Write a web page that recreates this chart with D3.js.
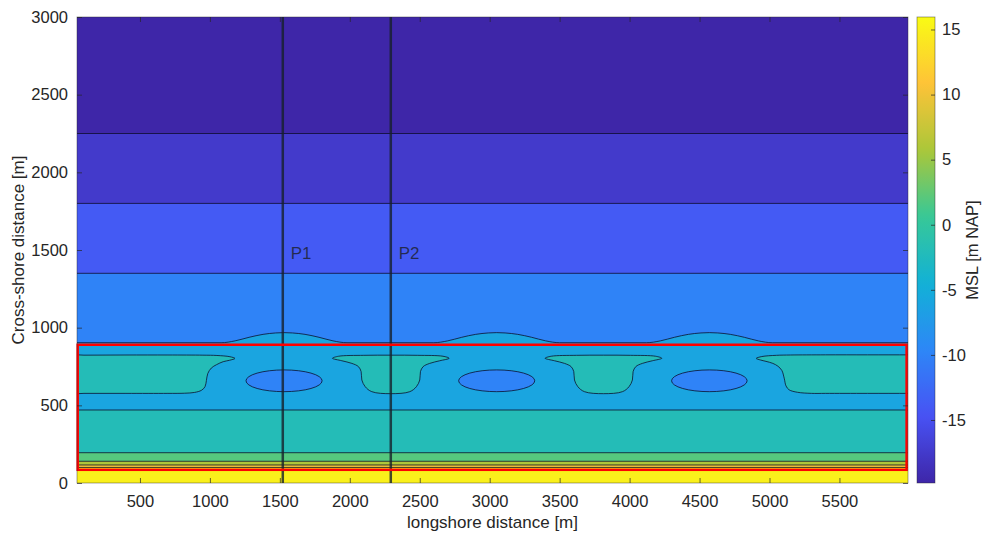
<!DOCTYPE html>
<html>
<head>
<meta charset="utf-8">
<script src="https://cdn.jsdelivr.net/npm/d3@7"></script>
<style>
  body { margin: 0; background: #fff; }
  text { font-family: "Liberation Sans", Arial, Helvetica, sans-serif; fill: #262626; }
</style>
</head>
<body>
<svg id="chart" width="991" height="533"></svg>
<script>
// contour levels [m NAP] and colour limits of the bed level
const levels = [-17.5, -14, -10, -6, -2, 2, 6, 10, 15];
const colorLimits = [-19.84, 15.96];

// shore-parallel contours: level and cross-shore position [m]
const flatLevels = [-17.5, -14, -10, -2, 2, 6, 10, 15];
const flatY = [2250, 1800, 1350, 470, 195, 140, 116, 100];

// -6 m contour, bulging seaward in front of the rip channels
const bumpX = [-200, 1080, 1180, 1280, 1380, 1470, 1530, 1590, 1680, 1780, 1880, 1980,
               2600, 2700, 2800, 2900, 2990, 3050, 3110, 3200, 3300, 3400, 3500,
               4120, 4220, 4320, 4420, 4510, 4570, 4630, 4720, 4820, 4920, 5020, 6200];
const bumpY = [903, 903, 915, 938, 957, 966, 968, 966, 957, 938, 915, 903,
               903, 915, 938, 957, 966, 968, 966, 957, 938, 915, 903,
               903, 915, 938, 957, 966, 968, 966, 957, 938, 915, 903, 903];

// rip channels: closed -6 m contours (extent in metres)
const ripX0 = [1258, 2778, 4300];
const ripX1 = [1802, 3322, 4840];
const ripY0 = 588;
const ripY1 = 728;

// shoals: closed -2 m contours
const shoalX = [
  [-200, 100, 400, 700, 950, 1050, 1143, 1179, 1140, 1095, 1048, 1010, 985, 975, 965, 940, 890, 820, 700, 400, 100, -200],
  [1876, 1920, 2100, 2293, 2486, 2666, 2710, 2643, 2571, 2524, 2505, 2500, 2476, 2429, 2293, 2157, 2110, 2086, 2081, 2062, 2015, 1943],
  [3396, 3440, 3620, 3813, 4006, 4186, 4230, 4163, 4091, 4044, 4025, 4020, 3996, 3949, 3813, 3677, 3630, 3606, 3601, 3582, 3535, 3463],
  [4905, 4945, 5050, 5150, 5400, 5700, 6000, 6200, 6200, 6000, 5700, 5400, 5300, 5200, 5140, 5118, 5105, 5088, 5060, 5024, 4975, 4935]
];
const shoalY = [
  [822, 823, 824, 824, 823, 821, 813, 802, 790, 781, 762, 740, 705, 660, 620, 597, 583, 578, 577, 577, 577, 577],
  [803, 816, 822, 823, 822, 816, 803, 787, 770, 749, 717, 663, 620, 588, 575, 588, 620, 663, 717, 749, 770, 787],
  [803, 816, 822, 823, 822, 816, 803, 787, 770, 749, 717, 663, 620, 588, 575, 588, 620, 663, 717, 749, 770, 787],
  [802, 814, 822, 824, 825, 825, 825, 825, 577, 577, 577, 577, 577, 584, 600, 625, 675, 725, 752, 770, 783, 792]
];

// cross-shore profiles
const profileNames = ['P1', 'P2'];
const profileX = [1521, 2293];
const profileLabelY = 1480;

// study area box
const boxX = [55, 5980];
const boxY = [85, 890];

// ticks
const xTicks = [500, 1000, 1500, 2000, 2500, 3000, 3500, 4000, 4500, 5000, 5500];
const yTicks = [0, 500, 1000, 1500, 2000, 2500, 3000];
const cTicks = [-15, -10, -5, 0, 5, 10, 15];

const svg = d3.select('#chart');
const plot = { left: 77, right: 908, top: 17, bottom: 483 };
const bar = { left: 917, right: 935 };
const fontSize = '16.5px';
const labelSize = '17px';

const x = d3.scaleLinear().domain([50, 5990]).range([plot.left, plot.right]);
const y = d3.scaleLinear().domain([0, 3000]).range([plot.bottom, plot.top]);

// parula colormap
const parula = d3.piecewise(d3.interpolateRgb, [
  '#3e26a8', '#4852f4', '#2d87f7', '#12b1d6', '#37c897', '#abc739', '#fec338', '#f9fb14'
]);
const cNorm = d3.scaleLinear().domain(colorLimits).range([0, 1]).clamp(true);
const color = v => parula(cNorm(v));

svg.append('defs').append('clipPath').attr('id', 'clip')
  .append('rect')
  .attr('x', plot.left).attr('y', plot.top)
  .attr('width', plot.right - plot.left).attr('height', plot.bottom - plot.top);

const g = svg.append('g').attr('clip-path', 'url(#clip)');
const [x0, x1] = x.domain();
const lineStyle = sel => sel.attr('stroke', '#0a0a28').attr('stroke-width', 0.9).attr('stroke-opacity', 0.85);

// band below a horizontal level line
function band(yTop, fill) {
  g.append('rect')
    .attr('x', x(x0)).attr('width', x(x1) - x(x0))
    .attr('y', y(yTop)).attr('height', y(0) - y(yTop))
    .attr('fill', fill);
}

// deepest area
band(3000, color(colorLimits[0]));
// offshore shore-parallel bands
flatLevels.slice(0, 3).forEach((lv, i) => band(flatY[i], color(lv)));

// -6 m region under the bumpy contour
const bumpLine = d3.line().x(d => x(d[0])).y(d => y(d[1])).curve(d3.curveMonotoneX);
const bumpPts = bumpX.map((v, i) => [v, bumpY[i]]);
const bumpArea = d3.area().x(d => x(d[0])).y0(y(-100)).y1(d => y(d[1])).curve(d3.curveMonotoneX);
g.append('path').datum(bumpPts).attr('d', bumpArea).attr('fill', color(-6));

// rip channels (deeper than -6)
const rips = ripX0.map((v, i) => ({ cx: (v + ripX1[i]) / 2, rx: (ripX1[i] - v) / 2 }));
g.selectAll('ellipse.rip').data(rips).join('ellipse')
  .attr('class', 'rip')
  .attr('cx', d => x(d.cx)).attr('cy', y((ripY0 + ripY1) / 2))
  .attr('rx', d => x(d.rx) - x(0)).attr('ry', y(0) - y((ripY1 - ripY0) / 2))
  .attr('fill', color(-10))
  .call(lineStyle);

// shoals (shallower than -2)
const shoalLine = d3.line().x(d => x(d[0])).y(d => y(d[1])).curve(d3.curveCatmullRomClosed.alpha(0.5));
const shoals = shoalX.map((xs, k) => xs.map((v, i) => [v, shoalY[k][i]]));
g.selectAll('path.shoal').data(shoals).join('path')
  .attr('class', 'shoal')
  .attr('d', shoalLine)
  .attr('fill', color(-2))
  .call(lineStyle);

// nearshore bands
flatLevels.slice(3).forEach((lv, i) => band(flatY[i + 3], color(lv)));

// contour lines
g.selectAll('line.contour').data(flatY).join('line')
  .attr('class', 'contour')
  .attr('x1', x(x0)).attr('x2', x(x1))
  .attr('y1', d => y(d)).attr('y2', d => y(d))
  .call(lineStyle);
g.append('path').datum(bumpPts).attr('d', bumpLine)
  .attr('fill', 'none')
  .call(lineStyle);

// profile lines
g.selectAll('line.profile').data(profileX).join('line')
  .attr('class', 'profile')
  .attr('x1', d => x(d)).attr('x2', d => x(d))
  .attr('y1', y(0)).attr('y2', y(3000))
  .attr('stroke', '#16202a').attr('stroke-opacity', 0.8).attr('stroke-width', 2.5);
g.selectAll('text.profile').data(profileNames).join('text')
  .attr('class', 'profile')
  .attr('x', (d, i) => x(profileX[i]) + 8)
  .attr('y', y(profileLabelY))
  .attr('dy', '0.35em')
  .style('font-size', labelSize)
  .style('fill', '#1a1a1a').style('fill-opacity', 0.75)
  .text(d => d);

// study area
svg.append('rect')
  .attr('x', x(boxX[0])).attr('y', y(boxY[1]))
  .attr('width', x(boxX[1]) - x(boxX[0])).attr('height', y(boxY[0]) - y(boxY[1]))
  .attr('fill', 'none').attr('stroke', '#ff0000').attr('stroke-width', 2.5);

// axes
const fmt = d => String(d);
function styleAxis(sel) {
  sel.select('.domain').remove();
  sel.selectAll('line').attr('stroke', '#262626').attr('stroke-width', 0.7);
  sel.selectAll('text').style('font-size', fontSize).style('fill', '#262626');
}
svg.append('g').attr('transform', `translate(0,${plot.bottom})`)
  .call(d3.axisBottom(x).tickValues(xTicks).tickFormat(fmt).tickSize(-5).tickPadding(12))
  .call(styleAxis);
svg.append('g').attr('transform', `translate(0,${plot.top})`)
  .call(d3.axisTop(x).tickValues(xTicks).tickSize(-5).tickFormat(''))
  .call(styleAxis);
svg.append('g').attr('transform', `translate(${plot.left},0)`)
  .call(d3.axisLeft(y).tickValues(yTicks).tickFormat(fmt).tickSize(-5).tickPadding(9))
  .call(styleAxis);
svg.append('g').attr('transform', `translate(${plot.right},0)`)
  .call(d3.axisRight(y).tickValues(yTicks).tickSize(-5).tickFormat(''))
  .call(styleAxis);
svg.append('rect')
  .attr('x', plot.left).attr('y', plot.top)
  .attr('width', plot.right - plot.left).attr('height', plot.bottom - plot.top)
  .attr('fill', 'none').attr('stroke', '#262626').attr('stroke-width', 0.7).attr('stroke-opacity', 0.6);

svg.append('text')
  .attr('x', (plot.left + plot.right) / 2).attr('y', 528)
  .attr('text-anchor', 'middle').style('font-size', labelSize)
  .text('longshore distance [m]');
svg.append('text')
  .attr('transform', `translate(24,${(plot.top + plot.bottom) / 2}) rotate(-90)`)
  .attr('text-anchor', 'middle').style('font-size', labelSize)
  .text('Cross-shore distance [m]');

// colorbar
const c = d3.scaleLinear().domain(colorLimits).range([plot.bottom, plot.top]);
const grad = svg.select('defs').append('linearGradient')
  .attr('id', 'parula').attr('x1', 0).attr('x2', 0).attr('y1', 1).attr('y2', 0);
grad.selectAll('stop').data(d3.range(0, 1.0001, 0.02)).join('stop')
  .attr('offset', d => d).attr('stop-color', d => parula(d));
svg.append('rect')
  .attr('x', bar.left).attr('y', plot.top)
  .attr('width', bar.right - bar.left).attr('height', plot.bottom - plot.top)
  .attr('fill', 'url(#parula)')
  .attr('stroke', '#262626').attr('stroke-width', 0.7).attr('stroke-opacity', 0.6);
svg.append('g').attr('transform', `translate(${bar.right},0)`)
  .call(d3.axisRight(c).tickValues(cTicks).tickFormat(fmt).tickSize(-4).tickPadding(7))
  .call(styleAxis);
svg.append('text')
  .attr('transform', `translate(978,${(plot.top + plot.bottom) / 2}) rotate(-90)`)
  .attr('text-anchor', 'middle').style('font-size', fontSize)
  .text('MSL [m NAP]');
</script>
</body>
</html>
